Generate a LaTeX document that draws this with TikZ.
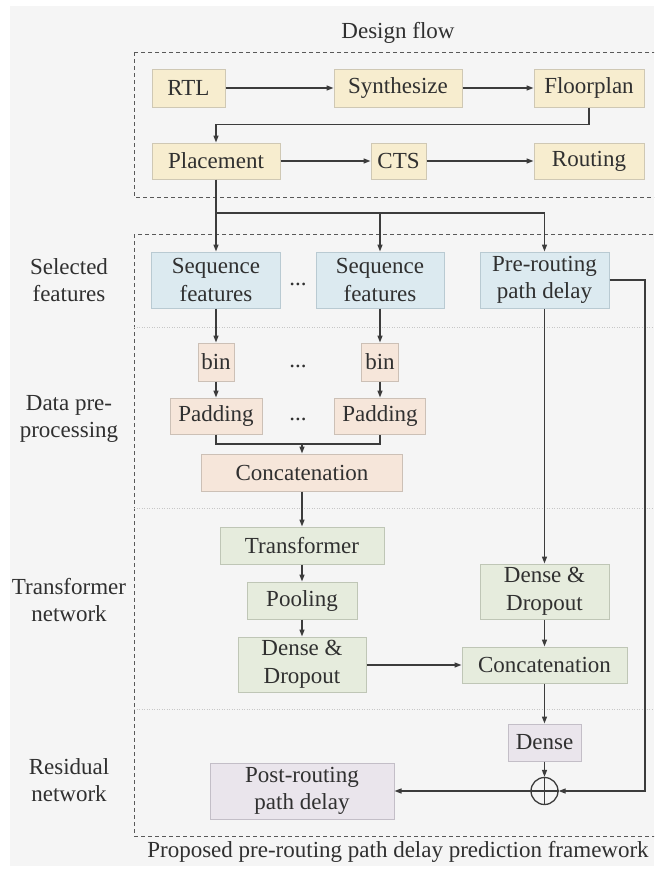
\documentclass[tikz,border=0pt]{standalone}
\usepackage{fontspec}
\setmainfont{Liberation Serif}
\usetikzlibrary{arrows.meta}

\definecolor{bgc}{HTML}{F5F5F5}
\definecolor{linec}{HTML}{3C3C3C}
\definecolor{txtc}{HTML}{303030}
\definecolor{flowfill}{HTML}{F7EDCF}
\definecolor{flowline}{HTML}{CFC8B4}
\definecolor{featfill}{HTML}{DCEAF0}
\definecolor{featline}{HTML}{B9CAD2}
\definecolor{prepfill}{HTML}{F6E6DA}
\definecolor{prepline}{HTML}{CCC0B6}
\definecolor{netfill}{HTML}{E6ECDD}
\definecolor{netline}{HTML}{BFC6B6}
\definecolor{resfill}{HTML}{EAE5EC}
\definecolor{resline}{HTML}{C3BEC7}

\tikzset{
  boxbase/.style={draw, line width=1pt, inner sep=0pt, align=center,
    text=txtc, font=\fontsize{23}{27.5}\selectfont},
  flowbox/.style={boxbase, fill=flowfill, draw=flowline},
  featbox/.style={boxbase, fill=featfill, draw=featline},
  prepbox/.style={boxbase, fill=prepfill, draw=prepline},
  netbox/.style={boxbase, fill=netfill, draw=netline},
  resbox/.style={boxbase, fill=resfill, draw=resline},
  sz/.style 2 args={minimum width=#1, minimum height=#2},
  arr/.style={draw=linec, line width=1.3pt, -{Triangle[length=7pt,width=5pt]}},
  wire/.style={draw=linec, line width=1.3pt},
  frame/.style={draw=black!65, line width=1pt, dash pattern=on 4pt off 3pt},
  sep/.style={draw=black!22, line width=0.8pt, dash pattern=on 1pt off 1.5pt},
  lbl/.style={align=center, text=txtc, font=\fontsize{23}{27.5}\selectfont},
  dots/.style={text=txtc, font=\fontsize{23}{27.5}\selectfont, inner sep=0pt},
}

\begin{document}
\begin{tikzpicture}[x=1pt, y=-1pt]
  \useasboundingbox (0,0) rectangle (654,870);
  \clip (0,0) rectangle (654,870);
  \fill[bgc] (10,6) rectangle (654,866);

  % frames and section separators
  \draw[frame] (134,52) rectangle (670,197);
  \draw[frame] (134,234) rectangle (670,836);
  \draw[sep] (134,327) -- (654,327);
  \draw[sep] (134,508) -- (654,508);
  \draw[sep] (134,709) -- (654,709);

  % titles and row labels
  \node[lbl] (tflow) at (398,33) {Design flow};
  \node[lbl] (tframe) at (398,852) {Proposed pre-routing path delay prediction framework};
  \node[lbl] (lsel) at (69,280) {Selected\\features};
  \node[lbl] (lpre) at (69,419) {Data pre-\\processing};
  \node[lbl] (ltra) at (69,600) {Transformer\\network};
  \node[lbl] (lres) at (69,780) {Residual\\network};

  % design flow
  \node[flowbox, sz={73}{38}] (rtl) at (188.5,88) {RTL};
  \node[flowbox, sz={128}{38}] (syn) at (398,88) {Synthesize};
  \node[flowbox, sz={110}{38}] (flo) at (589,88) {Floorplan};
  \node[flowbox, sz={128}{36}] (pla) at (216,161) {Placement};
  \node[flowbox, sz={55}{36}] (cts) at (398.5,161) {CTS};
  \node[flowbox, sz={110}{36}] (rou) at (589,161) {Routing};

  % selected features
  \node[featbox, sz={129}{56}] (sf1) at (216,280) {Sequence\\features};
  \node[featbox, sz={128}{56}] (sf2) at (380,280) {Sequence\\features};
  \node[featbox, sz={129}{56}] (prd) at (544.5,280) {Pre-routing\\path delay};
  \node[dots] (d1) at (298,284) {...};

  % data pre-processing
  \node[prepbox, sz={36}{38}] (bin1) at (216,362) {bin};
  \node[prepbox, sz={37}{38}] (bin2) at (380,362) {bin};
  \node[dots] (d2) at (298,366) {...};
  \node[prepbox, sz={92}{36}] (pad1) at (216,416) {Padding};
  \node[prepbox, sz={91}{36}] (pad2) at (380,416) {Padding};
  \node[dots] (d3) at (298,419) {...};
  \node[prepbox, sz={201}{37}] (cat1) at (302,472.5) {Concatenation};

  % transformer network
  \node[netbox, sz={164}{37}] (tra) at (302,545.5) {Transformer};
  \node[netbox, sz={110}{37}] (poo) at (302,600.5) {Pooling};
  \node[netbox, sz={128}{55}] (dd1) at (302,664.5) {Dense \&\\Dropout};
  \node[netbox, sz={129}{55}] (dd2) at (544.5,591.5) {Dense \&\\Dropout};
  \node[netbox, sz={165}{36}] (cat2) at (544.5,665) {Concatenation};

  % residual network
  \node[resbox, sz={73}{37}] (den) at (544.5,742.5) {Dense};
  \node[draw=linec, line width=1.3pt, circle, minimum size=27pt, inner sep=0pt] (plus) at (544.5,791) {};
  \draw[wire] (plus.north) -- (plus.south);
  \draw[wire] (plus.west) -- (plus.east);
  \node[resbox, sz={184}{56}] (post) at (302,791) {Post-routing\\path delay};

  % design flow connectors
  \draw[arr] (rtl) -- (syn);
  \draw[arr] (syn) -- (flo);
  \draw[arr] (flo.south) -- ++(0,17) -| (pla.north);
  \draw[arr] (pla) -- (cts);
  \draw[arr] (cts) -- (rou);

  % feature extraction
  \coordinate (split) at (216,213);
  \draw[arr] (pla.south) -- (sf1.north);
  \draw[arr] (split) -| (sf2.north);
  \draw[arr] (split) -| (prd.north);

  % pre-processing chain
  \draw[arr] (sf1) -- (bin1);
  \draw[arr] (sf2) -- (bin2);
  \draw[arr] (bin1) -- (pad1);
  \draw[arr] (bin2) -- (pad2);
  \coordinate (merge) at (302,444);
  \draw[wire] (pad1.south) |- (merge) -| (pad2.south);
  \draw[arr] (merge) -- (cat1.north);

  % network
  \draw[arr] (cat1) -- (tra);
  \draw[arr] (tra) -- (poo);
  \draw[arr] (poo) -- (dd1);
  \draw[arr] (prd) -- (dd2);
  \draw[arr] (dd2) -- (cat2);
  \draw[arr] (dd1.east |- cat2.west) -- (cat2.west);
  \draw[arr] (cat2) -- (den);
  \draw[arr] (den) -- (plus.north);

  % residual path
  \coordinate (rr) at (645,791);
  \draw[arr] (prd.east) -| (rr) -- (plus.east);
  \draw[arr] (plus.west) -- (post.east);
\end{tikzpicture}
\end{document}
